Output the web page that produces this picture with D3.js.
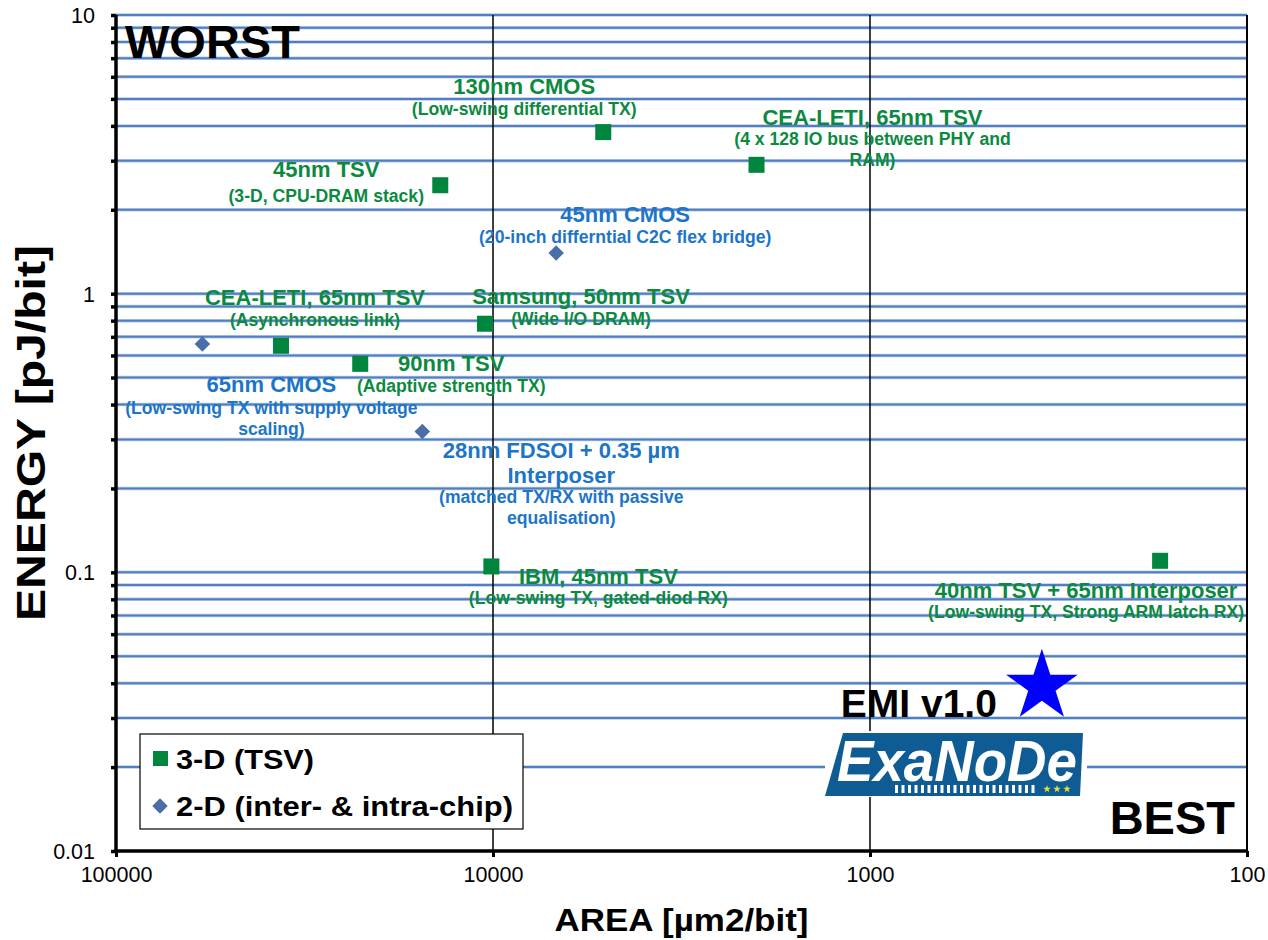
<!DOCTYPE html>
<html>
<head>
<meta charset="utf-8">
<script src="https://cdn.jsdelivr.net/npm/d3@7"></script>
<style>
  body { margin: 0; background: #fff; }
  svg { display: block; font-family: "Liberation Sans", Arial, sans-serif; }
</style>
</head>
<body>
<svg width="1268" height="940"></svg>
<script>
// 3-D (TSV) links
const tsvArea   = [5100, 2000, 13800, 36500, 10500, 22500, 10100, 170];
const tsvEnergy = [3.8, 2.9, 2.45, 0.65, 0.78, 0.56, 0.105, 0.11];
const tsvTitles = [
  ["130nm CMOS"],
  ["CEA-LETI, 65nm TSV"],
  ["45nm TSV"],
  ["CEA-LETI, 65nm TSV"],
  ["Samsung, 50nm TSV"],
  ["90nm TSV"],
  ["IBM, 45nm TSV"],
  ["40nm TSV + 65nm Interposer"]
];
const tsvNotes = [
  ["(Low-swing differential TX)"],
  ["(4 x 128 IO bus between PHY and", "RAM)"],
  ["(3-D, CPU-DRAM stack)"],
  ["(Asynchronous link)"],
  ["(Wide I/O DRAM)"],
  ["(Adaptive strength TX)"],
  ["(Low-swing TX, gated-diod RX)"],
  ["(Low-swing TX, Strong ARM latch RX)"]
];

// 2-D (inter- & intra-chip) links
const planarArea   = [6800, 59000, 15400];
const planarEnergy = [1.4, 0.66, 0.32];
const planarTitles = [
  ["45nm CMOS"],
  ["65nm CMOS"],
  ["28nm FDSOI + 0.35 µm", "Interposer"]
];
const planarNotes = [
  ["(20-inch differntial C2C flex bridge)"],
  ["(Low-swing TX with supply voltage", "scaling)"],
  ["(matched TX/RX with passive", "equalisation)"]
];

// EMI v1.0
const emiArea = [350];
const emiEnergy = [0.039];

const xTicks = [100000, 10000, 1000, 100];
const yTicks = [10, 1, 0.1, 0.01];
const legendLabels = ["3-D (TSV)", "2-D (inter- & intra-chip)"];

// label placement relative to the marker: dx, dy (first baseline), gap to note
const tsvLabelPos = [
  [-79, -38, 21], [116, -40, 20], [-114, -8, 25], [34, -41, 21],
  [96, -20, 21], [91, 7, 21], [107, 18, 20], [-74, 37, 20]
];
const planarLabelPos = [[69, -31, 21], [69, 48, 22], [139, 26, 20]];

const green = "#00853e", greenText = "#0b8a3f";
const blueMark = "#4a6fa8", blueText = "#1c75c8";

const margin = { top: 15, right: 21, bottom: 89, left: 116 },
    width = 1268, height = 940;

const svg = d3.select("svg");

const x = d3.scaleLog().domain([100000, 100]).range([margin.left, width - margin.right]);
const y = d3.scaleLog().domain([0.01, 10]).range([height - margin.bottom, margin.top]);

// minor values for the horizontal grid
const yMinor = [];
[0.01, 0.1, 1].forEach(function (d) {
    for (let m = 1; m < 10; m++) yMinor.push(d * m);
});
yMinor.push(10);

const grid = svg.append("g");
grid.selectAll(".hgrid-under")
    .data(yMinor.filter(d => d > 0.01))
    .enter().append("line")
    .attr("x1", x.range()[0]).attr("x2", x.range()[1])
    .attr("y1", d => y(d)).attr("y2", d => y(d))
    .attr("stroke", "#b9cce6").attr("stroke-width", 3.5);
grid.selectAll(".hgrid")
    .data(yMinor.filter(d => d > 0.01))
    .enter().append("line")
    .attr("x1", x.range()[0]).attr("x2", x.range()[1])
    .attr("y1", d => y(d)).attr("y2", d => y(d))
    .attr("stroke", "#4f7fc0").attr("stroke-width", 2);

// vertical grid at decades
grid.selectAll(".vgrid")
    .data([10000, 1000, 100])
    .enter().append("line")
    .attr("x1", d => x(d)).attr("x2", d => x(d))
    .attr("y1", y(10)).attr("y2", y(0.01))
    .attr("stroke", "#000").attr("stroke-width", d => d == 100 ? 2 : 1.5);

// axes
const isMajor = d => yTicks.some(t => Math.abs(t - d) < 1e-9);
const yAxis = d3.axisLeft(y).tickValues(yMinor).tickSize(5)
    .tickFormat(d => isMajor(d) ? String(+d.toPrecision(1)) : "");
const gy = svg.append("g")
    .attr("transform", "translate(" + x.range()[0] + ",0)")
    .call(yAxis);
gy.select(".domain").attr("stroke-width", 3.5).attr("d", "M0," + y(10) + "V" + (y(0.01) + 1.5));
gy.selectAll(".tick line").attr("stroke-width", 3.5);
gy.selectAll(".tick text")
    .attr("x", -21).attr("dy", "0.35em")
    .style("font-size", "21.5px").style("font-family", "Liberation Sans, Arial, sans-serif");

const xAxis = d3.axisBottom(x).tickValues(xTicks).tickSize(6).tickFormat(d3.format("d"));
const gx = svg.append("g")
    .attr("transform", "translate(0," + y(0.01) + ")")
    .call(xAxis);
gx.select(".domain").attr("stroke-width", 3.5).attr("d", "M" + (x(100000) - 1.5) + ",0H" + x(100));
gx.selectAll(".tick line").attr("stroke-width", 3);
gx.selectAll(".tick text")
    .attr("y", 16)
    .style("font-size", "21.5px").style("font-family", "Liberation Sans, Arial, sans-serif");

// axis titles
svg.append("text")
    .attr("x", (x.range()[0] + x.range()[1]) / 2).attr("y", 931)
    .attr("text-anchor", "middle")
    .style("font-size", "32px").style("font-weight", "bold")
    .attr("textLength", 254).attr("lengthAdjust", "spacingAndGlyphs")
    .text("AREA [µm2/bit]");
svg.append("text")
    .attr("transform", "translate(45," + (y.range()[0] + y.range()[1]) / 2 + ") rotate(-90)")
    .attr("text-anchor", "middle")
    .style("font-size", "40px").style("font-weight", "bold")
    .attr("textLength", 376).attr("lengthAdjust", "spacingAndGlyphs")
    .text("ENERGY [pJ/bit]");

// corner words
svg.append("text")
    .attr("x", x.range()[0] + 9).attr("y", 58)
    .style("font-size", "47px").style("font-weight", "bold")
    .text("WORST");
svg.append("text")
    .attr("x", x.range()[1] - 12).attr("y", 834)
    .attr("text-anchor", "end")
    .style("font-size", "47px").style("font-weight", "bold")
    .text("BEST");

// data labels
function drawLabels(areas, energies, titles, notes, pos, color) {
    const g = svg.append("g").attr("fill", color).attr("text-anchor", "middle")
        .style("font-weight", "bold");
    areas.forEach(function (a, i) {
        const cx = x(a) + pos[i][0];
        let by = y(energies[i]) + pos[i][1];
        titles[i].forEach(function (t, j) {
            g.append("text").attr("x", cx).attr("y", by).style("font-size", "22px").text(t);
            if (j < titles[i].length - 1) by += 25;
        });
        by += pos[i][2];
        notes[i].forEach(function (t) {
            g.append("text").attr("x", cx).attr("y", by).style("font-size", "17.6px").text(t);
            by += 21;
        });
    });
}
drawLabels(tsvArea, tsvEnergy, tsvTitles, tsvNotes, tsvLabelPos, greenText);
drawLabels(planarArea, planarEnergy, planarTitles, planarNotes, planarLabelPos, blueText);

// markers
svg.append("g").selectAll("rect")
    .data(tsvArea.map((a, i) => [a, tsvEnergy[i]]))
    .enter().append("rect")
    .attr("x", d => x(d[0]) - 8).attr("y", d => y(d[1]) - 8)
    .attr("width", 16).attr("height", 16)
    .attr("fill", green);

svg.append("g").selectAll("rect")
    .data(planarArea.map((a, i) => [a, planarEnergy[i]]))
    .enter().append("rect")
    .attr("x", -5.5).attr("y", -5.5).attr("width", 11).attr("height", 11)
    .attr("transform", d => "translate(" + x(d[0]) + "," + y(d[1]) + ") rotate(45)")
    .attr("fill", blueMark);

// EMI star
svg.append("g").selectAll("path")
    .data(emiArea.map((a, i) => [a, emiEnergy[i]]))
    .enter().append("path")
    .attr("d", d3.symbol(d3.symbolStar, 1590))
    .attr("transform", d => "translate(" + x(d[0]) + "," + y(d[1]) + ")")
    .attr("fill", "#0000ff");

svg.append("text")
    .attr("x", x(emiArea[0]) - 45).attr("y", 717)
    .attr("text-anchor", "end")
    .style("font-size", "39px").style("font-weight", "bold")
    .text("EMI v1.0");

// ExaNoDe logo
const logo = svg.append("g").attr("transform", "translate(825,733)");
logo.append("rect").attr("x", 0).attr("y", -2).attr("width", 262).attr("height", 66).attr("fill", "#fff");
logo.append("path")
    .attr("d", "M18,0H258L255,63H0Z")
    .attr("fill", "#0f5b93");
logo.append("text")
    .attr("x", 12).attr("y", 48)
    .attr("fill", "#fff")
    .style("font-size", "58px").style("font-weight", "bold").style("font-style", "italic")
    .attr("textLength", 240).attr("lengthAdjust", "spacingAndGlyphs")
    .text("ExaNoDe");
logo.append("g").selectAll("rect")
    .data(d3.range(22))
    .enter().append("rect")
    .attr("x", i => 70 + i * 6.5).attr("y", 52).attr("width", 3).attr("height", 8)
    .attr("fill", "#fff");
logo.append("g").selectAll("path")
    .data([0, 1, 2])
    .enter().append("path")
    .attr("d", d3.symbol(d3.symbolStar, 18))
    .attr("transform", i => "translate(" + (222 + i * 10) + ",56)")
    .attr("fill", "#e8e23a");

// legend
const legend = svg.append("g").attr("transform", "translate(140,734)");
legend.append("rect").attr("width", 383).attr("height", 95)
    .attr("fill", "#fff").attr("stroke", "#000").attr("stroke-width", 1.2);
legend.append("rect").attr("x", 13).attr("y", 17).attr("width", 15).attr("height", 15).attr("fill", green);
legend.append("rect").attr("x", -5.5).attr("y", -5.5).attr("width", 11).attr("height", 11)
    .attr("transform", "translate(20,72) rotate(45)").attr("fill", blueMark);
legend.selectAll(".lbl")
    .data(legendLabels)
    .enter().append("text")
    .attr("x", 36).attr("y", (d, i) => 35 + i * 47)
    .style("font-size", "27px").style("font-weight", "bold")
    .attr("textLength", (d, i) => [138, 337][i]).attr("lengthAdjust", "spacingAndGlyphs")
    .text(d => d);
</script>
</body>
</html>
